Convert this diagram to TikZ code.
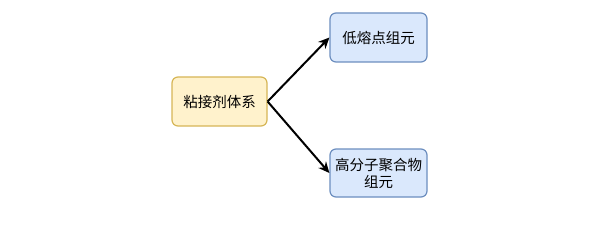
\documentclass[tikz,border=0pt]{standalone}
\usepackage{fontspec}
\setmainfont{Noto Sans CJK SC}
\usetikzlibrary{arrows.meta}

\definecolor{sysfill}{HTML}{FFF2CC}
\definecolor{sysline}{HTML}{D6B656}
\definecolor{compfill}{HTML}{DAE8FC}
\definecolor{compline}{HTML}{6C8EBF}

\tikzset{
  part/.style={draw, rounded corners=6pt, line width=1.2pt, minimum width=97pt, minimum height=49pt,
    align=center, font=\fontsize{14.5}{17}\selectfont, inner sep=0pt},
  sysbox/.style={part, fill=sysfill, draw=sysline},
  compbox/.style={part, fill=compfill, draw=compline},
  branch/.style={line width=2pt, -{Stealth[length=11pt,width=10pt]}}
}

\begin{document}
\begin{tikzpicture}[x=1pt,y=-1pt]
  \useasboundingbox (0,0) rectangle (604,227);
  \node[sysbox, minimum width=95pt] (sys) at (219.5,101.5) {粘接剂体系};
  \node[compbox] (low) at (378.5,37.5) {低熔点组元};
  \node[compbox, minimum height=48pt] (poly) at (378.5,173) {高分子聚合物\\组元};
  \draw[branch] (sys.east) -- (low.west);
  \draw[branch] (sys.east) -- (poly.west);
\end{tikzpicture}
\end{document}
